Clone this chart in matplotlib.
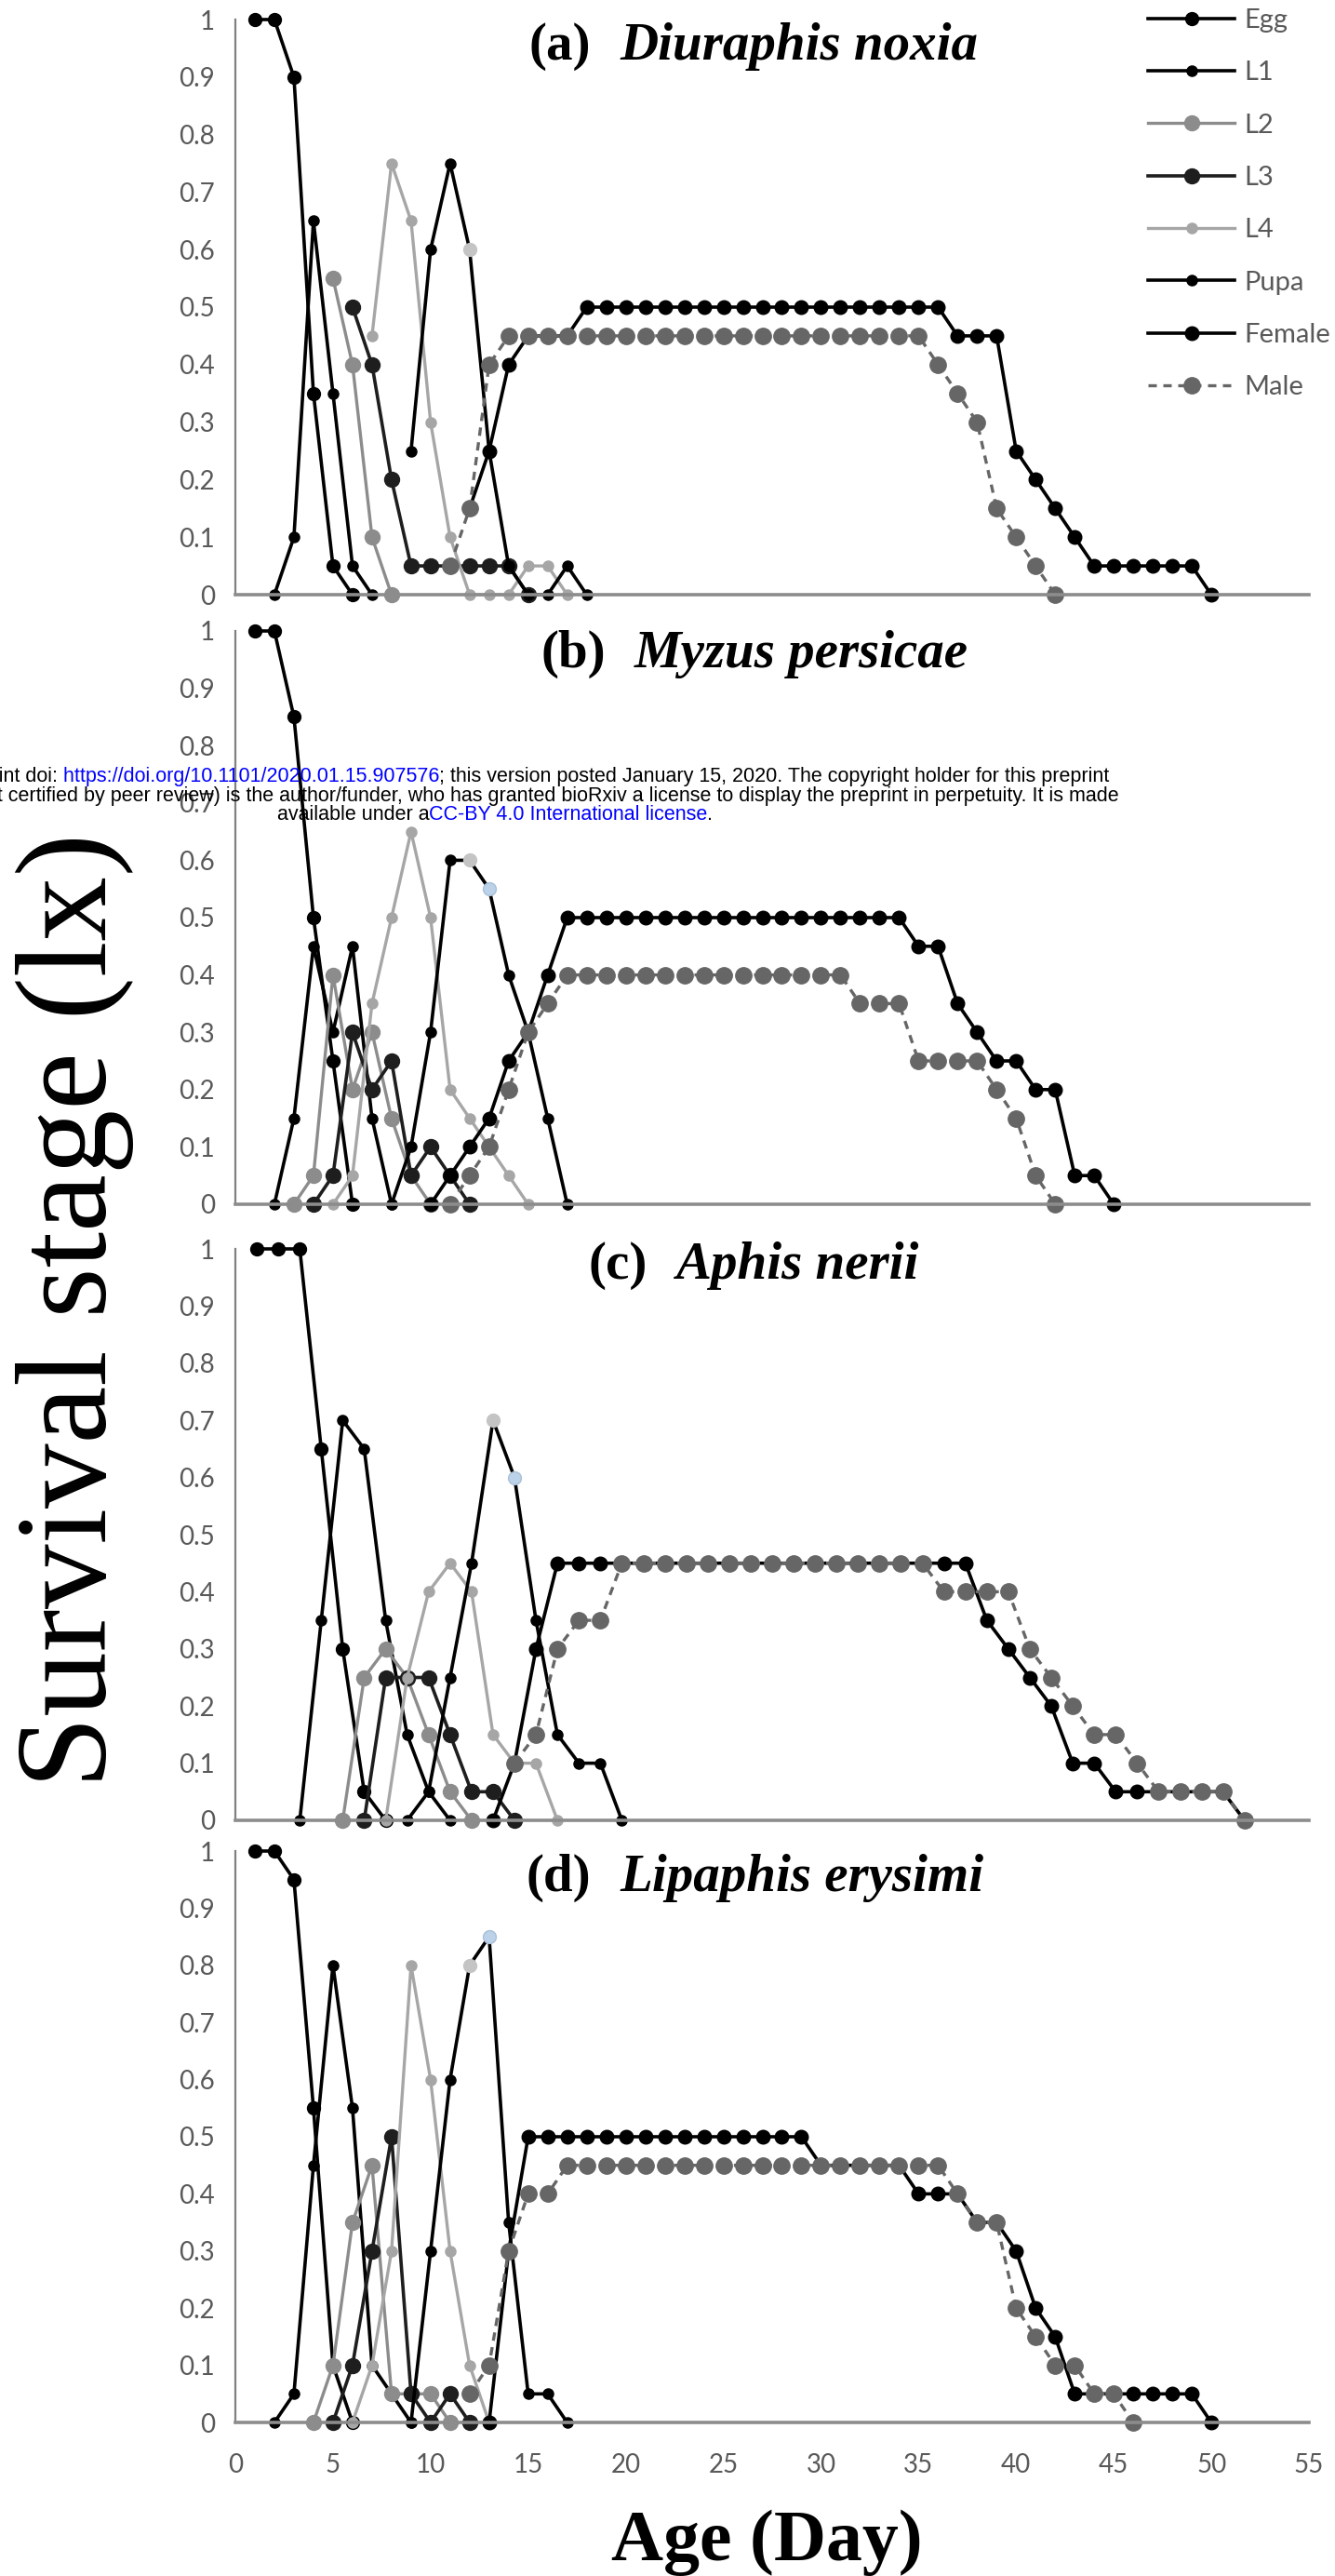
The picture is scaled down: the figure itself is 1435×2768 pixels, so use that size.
import numpy as np
import matplotlib.pyplot as plt
from matplotlib.offsetbox import TextArea, HPacker, VPacker, AnchoredOffsetbox

plt.rcParams['font.family'] = 'Lato'

stages = ['Egg', 'L1', 'L2', 'L3', 'L4', 'Pupa', 'Female', 'Male']
age_ticks = [0, 5, 10, 15, 20, 25, 30, 35, 40, 45, 50, 55]
lx_ticks = [0, 0.1, 0.2, 0.3, 0.4, 0.5, 0.6, 0.7, 0.8, 0.9, 1]

# each series: (first day, survival lx per day)
# (a) Diuraphis noxia
a_egg = (1, [1, 1, 0.9, 0.35, 0.05, 0])
a_l1 = (2, [0, 0.1, 0.65, 0.35, 0.05, 0])
a_l2 = (5, [0.55, 0.4, 0.1, 0])
a_l3 = (6, [0.5, 0.4, 0.2, 0.05, 0.05, 0.05, 0.05, 0.05, 0.05, 0])
a_l4 = (7, [0.45, 0.75, 0.65, 0.3, 0.1, 0, 0, 0, 0.05, 0.05, 0])
a_pupa = (9, [0.25, 0.6, 0.75, 0.6, 0.25, 0.05, 0, 0, 0.05, 0])
a_female = (12, [0.15, 0.25, 0.4, 0.45, 0.45, 0.45,
                 0.5, 0.5, 0.5, 0.5, 0.5, 0.5, 0.5, 0.5, 0.5, 0.5,
                 0.5, 0.5, 0.5, 0.5, 0.5, 0.5, 0.5, 0.5, 0.5,
                 0.45, 0.45, 0.45, 0.25, 0.2, 0.15, 0.1,
                 0.05, 0.05, 0.05, 0.05, 0.05, 0.05, 0])
a_male = (11, [0.05, 0.15, 0.4,
               0.45, 0.45, 0.45, 0.45, 0.45, 0.45, 0.45, 0.45, 0.45, 0.45, 0.45,
               0.45, 0.45, 0.45, 0.45, 0.45, 0.45, 0.45, 0.45, 0.45, 0.45, 0.45,
               0.4, 0.35, 0.3, 0.15, 0.1, 0.05, 0])

# (b) Myzus persicae
b_egg = (1, [1, 1, 0.85, 0.5, 0.25, 0])
b_l1 = (2, [0, 0.15, 0.45, 0.3, 0.45, 0.15, 0])
b_l2 = (3, [0, 0.05, 0.4, 0.2, 0.3, 0.15, 0.05, 0])
b_l3 = (4, [0, 0.05, 0.3, 0.2, 0.25, 0.05, 0.1, 0.05, 0])
b_l4 = (5, [0, 0.05, 0.35, 0.5, 0.65, 0.5, 0.2, 0.15, 0.1, 0.05, 0])
b_pupa = (8, [0, 0.1, 0.3, 0.6, 0.6, 0.55, 0.4, 0.3, 0.15, 0])
b_female = (10, [0, 0.05, 0.1, 0.15, 0.25, 0.3, 0.4,
                 0.5, 0.5, 0.5, 0.5, 0.5, 0.5, 0.5, 0.5, 0.5,
                 0.5, 0.5, 0.5, 0.5, 0.5, 0.5, 0.5, 0.5, 0.5,
                 0.45, 0.45, 0.35, 0.3, 0.25, 0.25, 0.2, 0.2, 0.05, 0.05, 0])
b_male = (11, [0, 0.05, 0.1, 0.2, 0.3, 0.35,
               0.4, 0.4, 0.4, 0.4, 0.4, 0.4, 0.4, 0.4, 0.4, 0.4, 0.4, 0.4, 0.4, 0.4, 0.4,
               0.35, 0.35, 0.35, 0.25, 0.25, 0.25, 0.25, 0.2, 0.15, 0.05, 0])

# (c) Aphis nerii
c_egg = (1, [1, 1, 1, 0.65, 0.3, 0.05, 0])
c_l1 = (3, [0, 0.35, 0.7, 0.65, 0.35, 0.15, 0.05, 0])
c_l2 = (5, [0, 0.25, 0.3, 0.25, 0.15, 0.05, 0])
c_l3 = (6, [0, 0.25, 0.25, 0.25, 0.15, 0.05, 0.05, 0])
c_l4 = (7, [0, 0.25, 0.4, 0.45, 0.4, 0.15, 0.1, 0.1, 0])
c_pupa = (8, [0, 0.05, 0.25, 0.45, 0.7, 0.6, 0.35, 0.15, 0.1, 0.1, 0])
c_female = (12, [0, 0.1, 0.3,
                 0.45, 0.45, 0.45, 0.45, 0.45, 0.45, 0.45, 0.45, 0.45, 0.45,
                 0.45, 0.45, 0.45, 0.45, 0.45, 0.45, 0.45, 0.45, 0.45, 0.45,
                 0.35, 0.3, 0.25, 0.2, 0.1, 0.1,
                 0.05, 0.05, 0.05, 0.05, 0.05, 0.05, 0])
c_male = (13, [0.1, 0.15, 0.3, 0.35, 0.35,
               0.45, 0.45, 0.45, 0.45, 0.45, 0.45, 0.45, 0.45, 0.45, 0.45,
               0.45, 0.45, 0.45, 0.45, 0.45,
               0.4, 0.4, 0.4, 0.4, 0.3, 0.25, 0.2, 0.15, 0.15, 0.1,
               0.05, 0.05, 0.05, 0.05, 0])

# (d) Lipaphis erysimi
d_egg = (1, [1, 1, 0.95, 0.55, 0.1, 0])
d_l1 = (2, [0, 0.05, 0.45, 0.8, 0.55, 0.1, 0.05, 0])
d_l2 = (4, [0, 0.1, 0.35, 0.45, 0.05, 0.05, 0.05, 0])
d_l3 = (5, [0, 0.1, 0.3, 0.5, 0.05, 0, 0.05, 0])
d_l4 = (6, [0, 0.1, 0.3, 0.8, 0.6, 0.3, 0.1, 0])
d_pupa = (9, [0, 0.3, 0.6, 0.8, 0.85, 0.35, 0.05, 0.05, 0])
d_female = (13, [0, 0.3,
                 0.5, 0.5, 0.5, 0.5, 0.5, 0.5, 0.5, 0.5, 0.5, 0.5, 0.5, 0.5, 0.5, 0.5, 0.5,
                 0.45, 0.45, 0.45, 0.45, 0.45, 0.4, 0.4, 0.4, 0.35, 0.35, 0.3, 0.2, 0.15,
                 0.05, 0.05, 0.05, 0.05, 0.05, 0.05, 0.05, 0])
d_male = (12, [0.05, 0.1, 0.3, 0.4, 0.4,
               0.45, 0.45, 0.45, 0.45, 0.45, 0.45, 0.45, 0.45, 0.45, 0.45,
               0.45, 0.45, 0.45, 0.45, 0.45, 0.45, 0.45, 0.45, 0.45, 0.45,
               0.4, 0.35, 0.35, 0.2, 0.15, 0.1, 0.1, 0.05, 0.05, 0])

# pupa points drawn with a pale / bluish marker in the original
a_pale, a_blue = [12], []
b_pale, b_blue = [12], [13]
c_pale, c_blue = [12], [13]
d_pale, d_blue = [12], [13]

panels = [
    ('(a)', 'Diuraphis noxia', 55, [a_egg, a_l1, a_l2, a_l3, a_l4, a_pupa, a_female, a_male], a_pale, a_blue),
    ('(b)', 'Myzus persicae', 55, [b_egg, b_l1, b_l2, b_l3, b_l4, b_pupa, b_female, b_male], b_pale, b_blue),
    ('(c)', 'Aphis nerii', 50, [c_egg, c_l1, c_l2, c_l3, c_l4, c_pupa, c_female, c_male], c_pale, c_blue),
    ('(d)', 'Lipaphis erysimi', 55, [d_egg, d_l1, d_l2, d_l3, d_l4, d_pupa, d_female, d_male], d_pale, d_blue),
]

styles = {
    'Egg': dict(color='black', lw=2.6, ms=10),
    'L1': dict(color='black', lw=2.6, ms=8),
    'L2': dict(color='#8c8c8c', lw=2.4, ms=11.5),
    'L3': dict(color='#1e1e1e', lw=2.6, ms=11.5),
    'L4': dict(color='#a6a6a6', lw=2.4, ms=8),
    'Pupa': dict(color='black', lw=2.6, ms=8),
    'Female': dict(color='black', lw=2.6, ms=10.5),
    'Male': dict(color='#666666', lw=2.4, ms=12.5, ls=(0, (2.7, 2.1))),
}

W, H = 1435, 2768
fig = plt.figure(figsize=(W / 100, H / 100), dpi=100)

# pixel rows of y=1 and y=0 for each panel, and title anchors (tag right edge, species left edge, centre y)
rows = [(21, 639), (678, 1294), (1342, 1956), (1989, 2603)]
title_pos = [(635, 666, 50), (651, 682, 703), (696, 727, 1360), (635, 666, 2018)]
x0, x1 = 253, 1407

handles = []
for i, (tag, species, xmax, series, pale, blue) in enumerate(panels):
    top, bot = rows[i]
    ax = fig.add_axes([x0 / W, 1 - bot / H, (x1 - x0) / W, (bot - top) / H])
    for name, (start, vals) in zip(stages, series):
        st = styles[name]
        days = np.arange(start, start + len(vals))
        ln, = ax.plot(days, vals, color=st['color'], lw=st['lw'], ls=st.get('ls', '-'),
                      marker='o', ms=st['ms'], mfc=st['color'], mec=st['color'],
                      clip_on=False, label=name)
        if i == 0:
            handles.append(ln)
        if name == 'Pupa':
            for d in pale:
                ax.plot(d, vals[d - start], 'o', ms=10, color='#c4c4c4', clip_on=False)
            for d in blue:
                ax.plot(d, vals[d - start], 'o', ms=10, color='#bcd2e8', mec='#a9c0d8', clip_on=False)
    ax.set_xlim(0, xmax)
    ax.set_ylim(0, 1)
    ax.set_yticks(lx_ticks)
    ax.set_yticklabels(['{:g}'.format(v) for v in lx_ticks])
    ax.tick_params(axis='y', length=0, pad=16, labelsize=20, labelcolor='#595959')
    if i == 3:
        ax.set_xticks(age_ticks)
        ax.tick_params(axis='x', length=0, pad=24, labelsize=20, labelcolor='#595959')
    else:
        ax.set_xticks([])
    for s in ['top', 'right']:
        ax.spines[s].set_visible(False)
    ax.spines['left'].set_color('#808080')
    ax.spines['left'].set_linewidth(1.6)
    ax.spines['bottom'].set_color('#8c8c8c')
    ax.spines['bottom'].set_linewidth(2.6)
    ax.patch.set_alpha(0)

    tr, sl, ty = title_pos[i]
    fig.text(tr / W, 1 - ty / H, tag, ha='right', va='center', fontsize=41,
             weight='bold', family='Liberation Serif')
    fig.text(sl / W, 1 - ty / H, species, ha='left', va='center', fontsize=41,
             weight='bold', style='italic', family='Liberation Serif')

fig.legend(handles, stages, loc='upper left', bbox_to_anchor=(1234 / W, 1 - 9 / H),
           frameon=False, borderpad=0, borderaxespad=0, handlelength=3.2,
           handletextpad=0.34, labelspacing=1.04, fontsize=21, labelcolor='#595959')

fig.text(80 / W, 1 - 1408 / H, 'Survival stage (lx)', rotation=90, ha='center', va='center',
         fontsize=100, family='Liberation Serif')
fig.text(824 / W, 1 - 2732 / H, 'Age (Day)', ha='center', va='center', fontsize=56,
         weight='bold', family='Liberation Serif')

# bioRxiv watermark
wm = dict(family='Liberation Sans', fontsize=15.5)
def piece(s, c):
    return TextArea(s, textprops=dict(color=c, **wm))
line1 = HPacker(children=[piece('bioRxiv preprint doi:', 'black'),
                          piece(' https://doi.org/10.1101/2020.01.15.907576', 'blue'),
                          piece('; this version posted January 15, 2020. The copyright holder for this preprint', 'black')],
                sep=0, pad=0, align='baseline')
line2 = HPacker(children=[piece('(which was not certified by peer review) is the author/funder, who has granted bioRxiv a license to display the preprint in perpetuity. It is made', 'black')],
                sep=0, pad=0, align='baseline')
line3 = HPacker(children=[piece('available under a', 'black'),
                          piece('CC-BY 4.0 International license', 'blue'),
                          piece('.', 'black')],
                sep=0, pad=0, align='baseline')
block = VPacker(children=[line1, line2, line3], sep=-0.5, pad=0, align='center')
fig.add_artist(AnchoredOffsetbox(loc='center', child=block, pad=0, borderpad=0, frameon=False,
                                 bbox_to_anchor=(532 / W, 1 - 855 / H),
                                 bbox_transform=fig.transFigure))

fig.savefig('out.png', dpi=100)
